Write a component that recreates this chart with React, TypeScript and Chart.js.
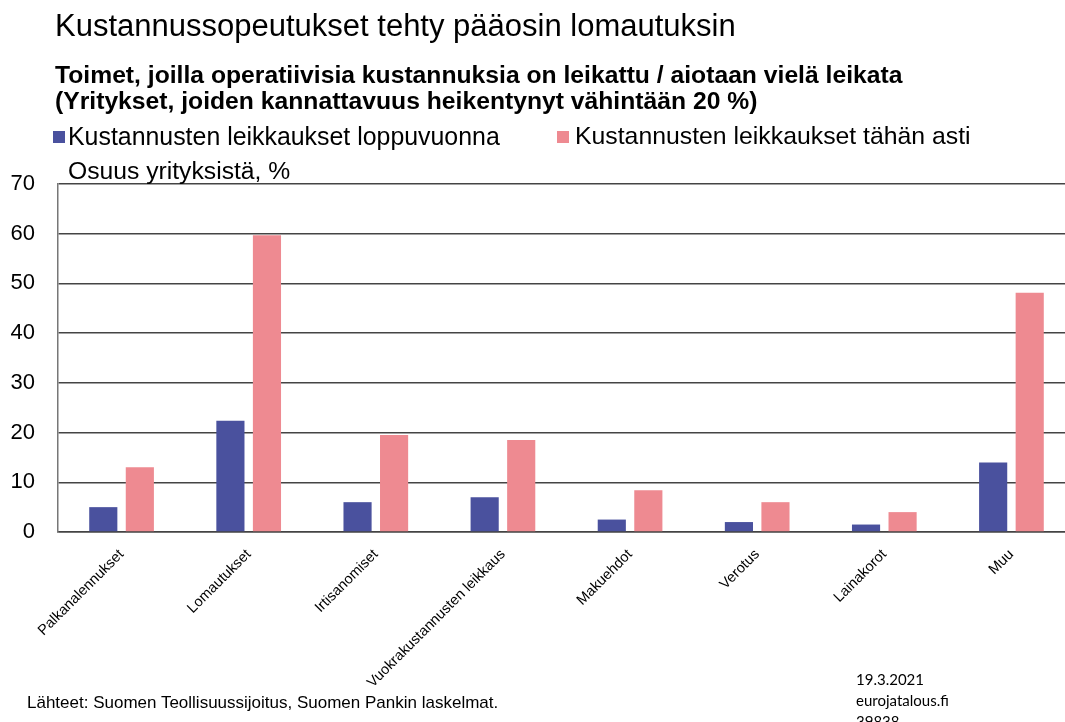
import React, { useEffect, useRef } from "react";
import { Chart, registerables } from "chart.js";

Chart.register(...registerables);

const title = "Kustannussopeutukset tehty pääosin lomautuksin";
const subtitleLines = [
  "Toimet, joilla operatiivisia kustannuksia on leikattu / aiotaan vielä leikata",
  "(Yritykset, joiden kannattavuus heikentynyt vähintään 20 %)",
];
const axisTitle = "Osuus yrityksistä, %";
const sourceText = "Lähteet: Suomen Teollisuussijoitus, Suomen Pankin laskelmat.";
const stampLines = ["19.3.2021", "eurojatalous.fi", "39838"];

const categories = [
  "Palkanalennukset",
  "Lomautukset",
  "Irtisanomiset",
  "Vuokrakustannusten leikkaus",
  "Makuehdot",
  "Verotus",
  "Lainakorot",
  "Muu",
];
const seriesNames = [
  "Kustannusten leikkaukset loppuvuonna",
  "Kustannusten leikkaukset tähän asti",
];
const loppuvuonna = [5, 22.4, 6, 7, 2.5, 2, 1.5, 14];
const tahanAsti = [13, 59.7, 19.5, 18.5, 8.4, 6, 4, 48.1];
const seriesColors = ["#4a519e", "#ee8a91"];
const yMin = 0;
const yMax = 70;
const yStep = 10;

const FONT = "'Liberation Sans', Arial, sans-serif";

export default function App() {
  const canvasRef = useRef<HTMLCanvasElement | null>(null);

  useEffect(() => {
    document.body.style.margin = "0";
    document.body.style.overflow = "hidden";
    const canvas = canvasRef.current;
    if (!canvas) return;
    const chart = new Chart(canvas, {
      type: "bar",
      data: {
        labels: categories,
        datasets: [
          {
            label: seriesNames[0],
            data: loppuvuonna,
            backgroundColor: seriesColors[0],
            categoryPercentage: 0.575,
            barPercentage: 0.77,
          },
          {
            label: seriesNames[1],
            data: tahanAsti,
            backgroundColor: seriesColors[1],
            categoryPercentage: 0.575,
            barPercentage: 0.77,
          },
        ],
      },
      options: {
        responsive: false,
        animation: false,
        layout: { padding: { left: 0, top: 184, right: 10, bottom: 0 } },
        plugins: {
          legend: { display: false },
          tooltip: { enabled: false },
          title: { display: false },
        },
        scales: {
          x: {
            grid: { display: false },
            border: { display: true, color: "#444", width: 1.5 },
            ticks: {
              color: "#000",
              font: { family: FONT, size: 14.5 },
              minRotation: 45,
              maxRotation: 45,
              autoSkip: false,
              padding: 6,
            },
            afterFit: (scale: any) => {
              scale.height = 190;
            },
          },
          y: {
            min: yMin,
            max: yMax,
            grid: { color: "#444", lineWidth: 1.5, drawTicks: false },
            border: { display: true, color: "#777", width: 1.5 },
            ticks: {
              stepSize: yStep,
              color: "#000",
              font: { family: FONT, size: 22 },
              padding: 23,
            },
            afterFit: (scale: any) => {
              scale.width = 58;
            },
          },
        },
      },
    });
    return () => chart.destroy();
  }, []);

  const text = (style: React.CSSProperties, content: React.ReactNode) => (
    <div
      style={{
        position: "absolute",
        whiteSpace: "nowrap",
        color: "#000",
        fontFamily: FONT,
        ...style,
      }}
    >
      {content}
    </div>
  );

  const square = (left: number, color: string) => (
    <div
      style={{
        position: "absolute",
        left,
        top: 131,
        width: 12,
        height: 12,
        background: color,
      }}
    />
  );

  return (
    <div
      style={{
        position: "fixed",
        left: 0,
        top: 0,
        width: 1065,
        height: 722,
        overflow: "hidden",
        background: "#fff",
      }}
    >
      <canvas
        ref={canvasRef}
        width={1085}
        height={722}
        style={{ position: "absolute", left: 0, top: 0, width: 1085, height: 722 }}
      />
      {text({ left: 55, top: 8, fontSize: 31, lineHeight: "36px" }, title)}
      {text(
        { left: 55, top: 62, fontSize: 24.7, fontWeight: "bold", lineHeight: "26px" },
        subtitleLines.map((l, i) => <div key={i}>{l}</div>)
      )}
      {square(53, seriesColors[0])}
      {text({ left: 68, top: 122, fontSize: 24.9, lineHeight: "28px" }, seriesNames[0])}
      {square(557, seriesColors[1])}
      {text({ left: 575, top: 122, fontSize: 24.8, lineHeight: "28px" }, seriesNames[1])}
      {text({ left: 68, top: 157, fontSize: 24.7, lineHeight: "28px" }, axisTitle)}
      {text({ left: 27, top: 693, fontSize: 17, lineHeight: "20px" }, sourceText)}
      {text(
        {
          left: 856,
          top: 669,
          fontSize: 15,
          lineHeight: "21px",
          fontFamily: "Lato, 'Open Sans', sans-serif",
        },
        stampLines.map((l, i) => <div key={i}>{l}</div>)
      )}
    </div>
  );
}
